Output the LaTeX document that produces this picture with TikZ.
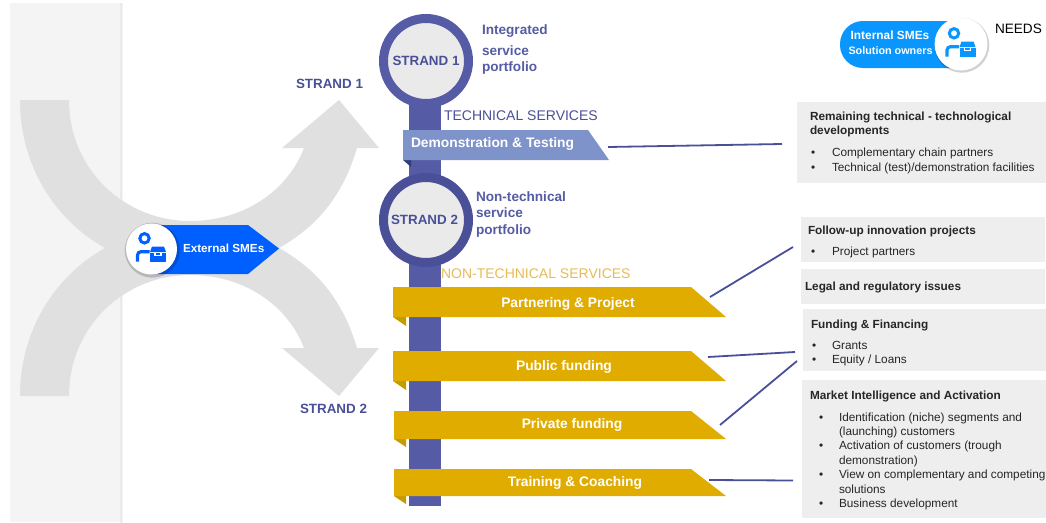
\documentclass[tikz,border=0pt]{standalone}
\usepackage{fontspec}
\setmainfont{Liberation Sans}
\definecolor{panelgrey}{HTML}{F4F4F4}
\definecolor{swoosh}{HTML}{E0E0E0}
\definecolor{boxgrey}{HTML}{EEEEEE}
\definecolor{discgrey}{HTML}{EAEAEA}
\definecolor{stem}{HTML}{555BA5}
\definecolor{stemdark}{HTML}{4A5098}
\definecolor{demo}{HTML}{7F93CB}
\definecolor{demofold}{HTML}{2F3E7A}
\definecolor{gold}{HTML}{E0AC00}
\definecolor{golddark}{HTML}{C79A00}
\definecolor{goldtext}{HTML}{E8BC55}
\definecolor{extblue}{HTML}{0060FF}
\definecolor{intblue}{HTML}{0A96FF}
\definecolor{bodytext}{HTML}{262626}
\newcommand{\fs}[1]{\fontsize{#1}{#1}\selectfont}
\newcommand{\smeicon}[3]{%
  \begin{scope}[shift={(#1)}]
    \fill[black,opacity=.18] (0.8,1.2) circle[radius=27.5];
    \fill[white] (0,0) circle[radius=#3];
    \draw[#2,line width=3pt] (-7,-10.7) circle[radius=4.7];
    \draw[#2,line width=3.2pt,rounded corners=3.5pt] (-14,12.7) -- (-14,2.7) -- (-2,2.7);
    \fill[#2] (-1.5,4) rectangle (14.5,12.7);
    \fill[#2] (0.5,-2.5) -- (12.5,-2.5) -- (14.5,3) -- (-1.5,3) -- cycle;
    \draw[white,line width=1.2pt] (3.5,3.5) -- (3.5,6.5) -- (9.5,6.5) -- (9.5,3.5);
  \end{scope}}
\tikzset{
  every node/.style={inner sep=0pt,outer sep=0pt},
  nudge/.style={yshift=-1.8pt},
  lead/.style={draw=stemdark,line width=1.8pt},
  bar/.style={nudge,font=\fs{13.8}\bfseries,text=white},
  head/.style={nudge,anchor=mid west,font=\fs{11.8}\bfseries,text=bodytext},
  body/.style={nudge,anchor=mid west,font=\fs{11.8},text=bodytext},
  strandlab/.style={nudge,font=\fs{13.4}\bfseries,text=stemdark},
  side/.style={nudge,anchor=mid west,font=\fs{13.6}\bfseries,text=stem},
  disc/.style={circle,fill=discgrey,line width=9pt,minimum size=85pt,font=\fs{13.4}\bfseries,text=stemdark}
}
\begin{document}
\begin{tikzpicture}[x=1pt,y=-1pt]
\useasboundingbox (0,0) rectangle (1046,522);
\fill[white] (0,0) rectangle (1046,522);
% side panel
\fill[panelgrey] (10,3) rectangle (122,522);
\shade[left color=gray!22,right color=white] (120.5,3) rectangle (123,522);
% crossing arrows
\fill[swoosh] (20,100) -- (69,100)
  .. controls (69,170) and (125,221) .. (190,221)
  .. controls (245,221) and (288,190) .. (304,148)
  -- (282,148) -- (339,100) -- (379,148) -- (357,148)
  .. controls (343,195) and (318,226) .. (279,248)
  .. controls (318,270) and (343,301) .. (357,348)
  -- (379,348) -- (339,396) -- (282,348) -- (304,348)
  .. controls (288,306) and (245,275) .. (190,275)
  .. controls (125,275) and (69,326) .. (69,396)
  -- (20,396)
  .. controls (20,330) and (55,276) .. (105,248)
  .. controls (55,220) and (20,166) .. (20,100) -- cycle;
% external tag
\fill[extblue] (151,225) -- (248,225) -- (279,248.5) -- (248,274) -- (151,274) -- cycle;
\smeicon{151.5,249}{extblue}{25.5}
\node[nudge,font=\fs{11.7}\bfseries,text=white,anchor=mid west] (ext) at (183,248.5) {External SMEs};
% stem
\fill[stem] (409,60) rectangle (441,506);
\node[disc,draw=stem] (s1) at (426,61) {STRAND 1};
\node[disc,draw=stemdark] (s2) at (426,220) {\hspace{-3pt}STRAND 2};
% side labels
\node[strandlab,anchor=mid west] (l1) at (296,84) {STRAND 1};
\node[strandlab,anchor=mid west] (l2) at (300,409) {STRAND 2};
\node[side] (i1) at (482,30) {Integrated};
\node[side] (i2) at (482,51) {service};
\node[side] (i3) at (482,67.5) {portfolio};
\node[side] (n1) at (476,197) {Non-technical};
\node[side] (n2) at (476,213.5) {service};
\node[side] (n3) at (476,230) {portfolio};
\node[nudge,anchor=mid west,font=\fs{14},text=stemdark] (ts) at (444,116) {TECHNICAL SERVICES};
\node[nudge,anchor=mid west,font=\fs{14},text=goldtext] (nts) at (441,274.5) {NON-TECHNICAL SERVICES};
% demonstration banner
\fill[demofold] (403,160) -- (411,160) -- (411,167) -- cycle;
\fill[demo] (403,130) -- (588,130) -- (609,160) -- (403,160) -- cycle;
\node[bar,anchor=mid west] (demo) at (411,143) {Demonstration \& Testing};
% gold banners
\fill[golddark] (393,317) -- (406,317) -- (406,326) -- cycle;
\fill[gold] (393,287) -- (691,287) -- (726,317) -- (393,317) -- cycle;
\node[bar] (b1) at (568,302.5) {Partnering \& Project};
\fill[golddark] (393,381) -- (406,381) -- (406,390) -- cycle;
\fill[gold] (393,351) -- (691,351) -- (726,381) -- (393,381) -- cycle;
\node[bar] (b2) at (564,365) {Public funding};
\fill[golddark] (394,439) -- (406,439) -- (406,447) -- cycle;
\fill[gold] (394,411) -- (691,411) -- (726,439) -- (394,439) -- cycle;
\node[bar] (b3) at (572,423) {Private funding};
\fill[golddark] (394,496) -- (406,496) -- (406,504) -- cycle;
\fill[gold] (394,469) -- (691,469) -- (726,496) -- (394,496) -- cycle;
\node[bar] (b4) at (575,481) {Training \& Coaching};
% right boxes
\fill[boxgrey] (797,102) rectangle (1046,183);
\fill[boxgrey] (801,217) rectangle (1045,262);
\fill[boxgrey] (801,269) rectangle (1045,304);
\fill[boxgrey] (803,309) rectangle (1046,371);
\fill[boxgrey] (802,380) rectangle (1046,518);
% box A
\node[head] (a1) at (810,116) {Remaining technical - technological};
\node[head] (a2) at (810,130.5) {developments};
\node[body] (a3) at (811,152) {\makebox[21pt][l]{•}Complementary chain partners};
\node[body] (a4) at (811,167) {\makebox[21pt][l]{•}Technical (test)/demonstration facilities};
% box B
\node[head] (f1) at (808,230) {Follow-up innovation projects};
\node[body] (f2) at (811,251) {\makebox[21pt][l]{•}Project partners};
% box C
\node[head] (g1) at (805,286) {Legal and regulatory issues};
% box D
\node[head] (d1) at (811,324) {Funding \& Financing};
\node[body] (d2) at (812,345) {\makebox[20pt][l]{•}Grants};
\node[body] (d3) at (812,359.5) {\makebox[20pt][l]{•}Equity / Loans};
% box E
\node[head] (m0) at (810,395.5) {Market Intelligence and Activation};
\node[body] (m1) at (819,417) {\makebox[20pt][l]{•}Identification (niche) segments and};
\node[body] (m2) at (839,431) {(launching) customers};
\node[body] (m3) at (819,445.5) {\makebox[20pt][l]{•}Activation of customers (trough};
\node[body] (m4) at (839,460) {demonstration)};
\node[body] (m5) at (819,474.5) {\makebox[20pt][l]{•}View on complementary and competing};
\node[body] (m6) at (839,489) {solutions};
\node[body] (m7) at (819,503.5) {\makebox[20pt][l]{•}Business development};
% connectors
\coordinate (c0a) at (608,147); \coordinate (c0b) at (782,144);
\coordinate (c1a) at (710,297); \coordinate (c1b) at (793,247);
\coordinate (c2a) at (708,357); \coordinate (c2b) at (795,352);
\coordinate (c3a) at (720,425); \coordinate (c3b) at (797,361);
\coordinate (c4a) at (709,480); \coordinate (c4b) at (793,480.5);
\draw[lead] (c0a) -- (c0b);
\draw[lead] (c1a) -- (c1b);
\draw[lead] (c2a) -- (c2b);
\draw[lead] (c3a) -- (c3b);
\draw[lead] (c4a) -- (c4b);
% internal tag
\fill[intblue,rounded corners=23pt] (840,21) rectangle (985,68);
\smeicon{961,44}{intblue}{26.5}
\node[font=\fs{11.9}\bfseries,text=white,yshift=-1pt] (in1) at (890,34) {Internal SMEs};
\node[font=\fs{10.8}\bfseries,text=white,yshift=-1pt] (in2) at (890.5,49.5) {Solution owners};
\node[nudge,anchor=mid west,font=\fs{13.6},text=black] (needs) at (995,29) {NEEDS};
\end{tikzpicture}
\end{document}
